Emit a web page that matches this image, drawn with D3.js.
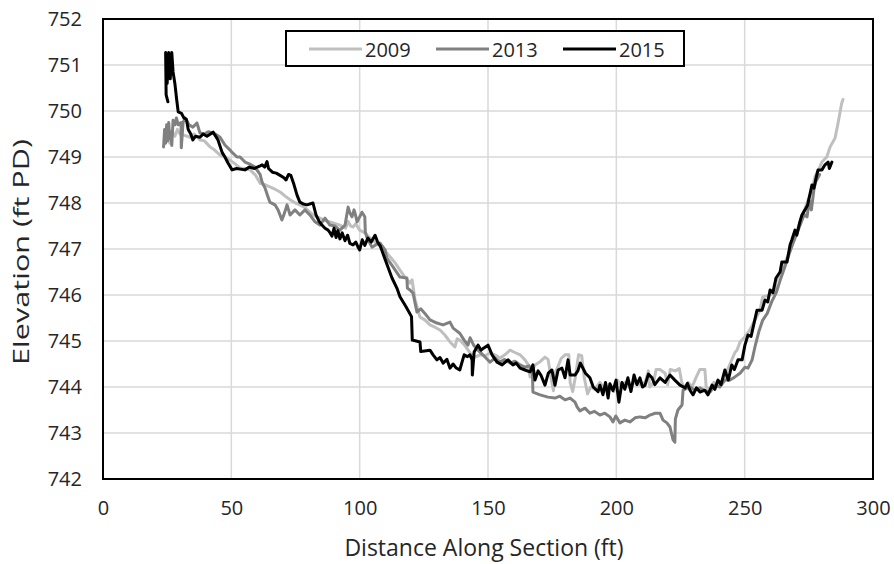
<!DOCTYPE html>
<html><head><meta charset="utf-8">
<script src="https://cdn.jsdelivr.net/npm/d3@7/dist/d3.min.js"></script>
<style>
html,body{margin:0;padding:0;background:#fff;}
svg{display:block;}
text{font-family:"Open Sans","Noto Sans",sans-serif;fill:#262626;}
</style></head>
<body>
<svg id="chart" width="894" height="564"></svg>
<script>
const xTicks = [0, 50, 100, 150, 200, 250, 300];
const yTicks = [742, 743, 744, 745, 746, 747, 748, 749, 750, 751, 752];
const seriesNames = ["2009", "2013", "2015"];
const seriesColors = ["#bfbfbf", "#808080", "#000000"];

const data2009 = [[26,749.3],[27,749.55],[28,749.45],[29,749.6],[30,749.5],[31.2,749.48],[33.9,749.43],[35.5,749.5],[37.8,749.37],[39.5,749.35],[41.7,749.22],[43.5,749.15],[45.6,749.04],[47.5,749.0],[49.5,748.93],[51.5,748.85],[53.4,748.76],[55.5,748.75],[57.3,748.72],[59.5,748.6],[61.2,748.43],[63,748.4],[65,748.35],[67,748.3],[69,748.24],[71,748.15],[72.9,748.07],[75,748.0],[76.7,747.96],[78.7,747.9],[80.6,747.8],[82.5,747.72],[84.5,747.67],[86.5,747.62],[88.4,747.59],[90.5,747.55],[92.3,747.52],[94.5,747.45],[95.5,747.6],[96.5,747.5],[97.4,747.48],[98.5,747.55],[100,747.41],[102,747.35],[104,747.24],[106,747.15],[108,747.05],[110,746.95],[111.8,746.83],[113.8,746.7],[115.7,746.54],[117.5,746.4],[119.6,746.26],[120.4,746.33],[121.6,745.89],[123.5,745.52],[125.4,745.46],[127.4,745.35],[129.3,745.3],[131.3,745.24],[133.2,745.13],[135.2,744.98],[137.1,744.87],[138,745.05],[139,745.02],[140.9,744.91],[143,744.74],[144.9,744.65],[146.9,744.7],[148.8,744.68],[150.8,744.74],[152.7,744.7],[154.7,744.63],[156.6,744.7],[158.6,744.8],[160.5,744.75],[162.5,744.7],[164.4,744.59],[165.5,744.5],[166.4,744.22],[167.3,744.35],[168.3,744.48],[170.3,744.55],[172.2,744.65],[173.4,744.6],[174.9,744.1],[175.5,743.92],[176.1,744.3],[177.3,744.45],[178.5,744.62],[180,744.7],[181.5,744.7],[182,744.1],[183,743.9],[184,744.2],[185.3,744.7],[186.5,744.68],[187.5,744.2],[188.8,743.85],[190,744.0],[191.5,743.95],[193.6,744.1],[195.5,743.95],[197.5,744.05],[199,743.9],[200.5,744.15],[202,744.0],[203.5,744.1],[205.3,743.98],[207.3,744.12],[209.2,744.05],[211.2,744.1],[212.5,744.35],[213,744.0],[214.5,744.1],[215.5,744.38],[217,744.38],[219,744.3],[220,744.05],[221,744.38],[223,744.35],[224.5,744.4],[225.5,744.1],[226.5,743.98],[228,744.1],[229.5,744.0],[231,744.2],[232.5,744.38],[234.5,744.38],[235,744.0],[236.5,743.95],[238,744.1],[240,744.05],[242,744.2],[244.3,744.5],[246.2,744.75],[247,744.8],[248.2,744.98],[250.1,745.09],[252,745.24],[254,745.46],[256,745.67],[257,745.96],[259.9,746.0],[261.8,746.05],[262,746.26],[263.8,746.5],[265.7,746.7],[267.7,746.98],[269.6,747.26],[271.5,747.57],[273,747.8],[274.7,748.07],[276.2,748.28],[277.4,748.57],[279,748.75],[280.1,748.89],[282,749.0],[283.3,749.22],[285.2,749.41],[286.4,749.74],[287.8,750.17],[288.3,750.25]];

const data2013 = [[23.6,749.22],[24,749.6],[24.4,749.3],[24.8,749.7],[25.2,749.35],[25.6,749.75],[26,749.4],[26.4,749.55],[26.8,749.25],[27.3,749.8],[28,749.7],[28.6,749.85],[29.3,749.7],[30.4,749.75],[30.5,749.2],[31.2,749.75],[32,749.85],[33.5,749.7],[35,749.65],[36.6,749.74],[37.8,749.52],[39.5,749.5],[41,749.55],[42.9,749.52],[44.3,749.48],[45.6,749.43],[47.5,749.26],[49.5,749.15],[50.3,749.1],[52.2,749.0],[53.4,749.0],[55.3,748.89],[57,748.85],[59.2,748.78],[61.2,748.62],[62,748.45],[63.1,748.33],[64.3,748.13],[65,748.02],[67,747.96],[68.2,747.85],[69.7,747.63],[70.7,747.78],[71.7,747.96],[72.9,747.74],[74.8,747.85],[76.7,747.74],[78.7,747.85],[80.6,747.74],[82.6,747.59],[84.5,747.52],[86.5,747.67],[88.4,747.52],[90.3,747.5],[92.3,747.41],[94.3,747.52],[95.5,747.91],[96.2,747.78],[97,747.7],[97.8,747.85],[98.2,747.78],[99,747.59],[100.9,747.8],[102,747.7],[102.2,747.37],[102.9,747.24],[104.8,747.04],[106.5,747.1],[107.9,747.13],[109.9,746.98],[110.6,746.8],[113,746.61],[115.7,746.39],[118.4,746.37],[118.6,746.15],[119.6,746.11],[120.8,746.04],[122.3,745.63],[123.8,745.7],[125.4,745.6],[127.4,745.46],[130.1,745.39],[132.5,745.35],[135.2,745.41],[136.4,745.28],[139,745.17],[140.7,745.02],[142.2,744.91],[143,745.07],[144.5,744.9],[146.1,744.8],[148,744.7],[149.2,744.63],[150.8,744.54],[152.7,744.63],[154.7,744.54],[156.5,744.6],[158.6,744.52],[160.5,744.56],[162.5,744.48],[164.4,744.43],[166,744.46],[167.3,744.37],[167.5,743.89],[170.3,743.83],[173.4,743.78],[176.1,743.76],[178,743.8],[180,743.72],[182,743.76],[183.9,743.67],[184.7,743.57],[185.8,743.48],[187.8,743.54],[189.7,743.43],[191.5,743.47],[193.6,743.39],[195.5,743.43],[197.5,743.35],[198.7,743.24],[199.8,743.37],[201.4,743.22],[203.3,743.28],[205.3,743.24],[207.3,743.33],[209.2,743.35],[211.2,743.33],[213.1,743.39],[215.1,743.43],[217,743.43],[218.2,743.28],[219.7,743.22],[220.9,743.13],[222.1,742.85],[222.8,742.8],[223,743.3],[224,743.5],[225.6,743.61],[226,743.93],[228.7,744.0],[230.6,743.93],[232.5,743.98],[234.5,743.92],[236.5,743.89],[238.4,744.04],[240.3,744.0],[242.3,744.15],[244.3,744.15],[246.2,744.22],[248.2,744.3],[250.1,744.43],[251.3,744.41],[252.9,744.59],[254,744.87],[255.5,745.2],[257,745.45],[258.8,745.6],[260.5,745.85],[262.3,746.05],[264,746.35],[265.7,746.62],[267.4,746.9],[269,747.15],[270.4,747.35],[271.8,747.55],[273.2,747.75],[274.3,747.7],[275.2,748.05],[276,747.85],[277,748.3],[277.6,748.45],[279.2,748.62]];

const data2015 = [[25.3,750.2],[24.6,750.35],[24.4,751.27],[25.0,750.6],[25.6,751.27],[26.2,750.7],[26.8,751.27],[27.3,750.85],[28.0,750.6],[28.7,750.25],[29.3,749.98],[30.6,749.95],[31.5,749.85],[32.5,749.82],[33.2,749.6],[34.2,749.5],[35.0,749.37],[36.0,749.45],[37.8,749.43],[39.0,749.5],[40.5,749.45],[42.9,749.54],[44.8,749.37],[46.4,749.1],[47.5,749.0],[48.7,748.87],[50.3,748.72],[52,748.75],[55.3,748.72],[57,748.78],[59,748.75],[61,748.8],[62,748.83],[63,748.78],[63.9,748.9],[64.5,748.75],[66,748.67],[67.5,748.65],[69,748.6],[70.5,748.55],[71.3,748.5],[72.3,748.62],[73.2,748.6],[74.4,748.4],[75.6,748.17],[76.7,748.02],[78,747.98],[79.5,747.96],[81.8,748.0],[83,747.74],[84.2,747.6],[85.3,747.52],[86.5,747.45],[87.7,747.41],[88.5,747.35],[89.2,747.28],[90,747.45],[90.8,747.25],[91.5,747.4],[92.3,747.22],[93.2,747.35],[94.3,747.18],[95.3,747.3],[96.2,747.12],[97.4,747.09],[98.5,747.15],[99.3,747.05],[100,746.98],[101,747.2],[102,747.08],[103.2,747.24],[104.5,747.15],[106,747.3],[107,747.15],[108,747.07],[110,746.76],[112.6,746.37],[114.5,746.15],[115.7,745.96],[118,745.75],[120.2,745.53],[120.5,745.02],[123.5,744.98],[123.8,744.77],[127.4,744.8],[128.6,744.7],[130.1,744.59],[131.3,744.64],[132.5,744.52],[134,744.6],[135.2,744.41],[136.4,744.5],[137.5,744.42],[139,744.37],[140.7,744.7],[142,744.66],[143,744.7],[143.8,744.59],[143.9,744.26],[144.6,744.76],[146.1,744.91],[147.3,744.8],[148.4,744.85],[150,744.91],[151.6,744.7],[153.5,744.54],[155.5,744.48],[157.8,744.59],[159.7,744.48],[161,744.52],[162.5,744.41],[164.4,744.37],[166.4,744.33],[167.5,744.48],[168.3,744.15],[169.5,744.35],[170.6,744.26],[172.2,744.04],[173.5,744.3],[174.9,744.37],[176.1,744.04],[177.3,744.37],[178.8,744.41],[180,744.2],[181.2,744.59],[182,744.26],[183.9,744.26],[185,744.35],[186,744.52],[188,744.3],[189.7,744.2],[191,744.0],[192.9,743.9],[193.6,744.04],[194.8,743.83],[195.8,744.1],[196.8,743.76],[197.5,744.07],[198.7,743.92],[199.9,744.15],[201,743.67],[202.2,744.1],[203.3,743.95],[204.5,744.2],[205.7,743.9],[206.9,744.26],[208,744.05],[209.2,744.2],[210.2,744.0],[211.2,744.04],[212.5,744.28],[213.9,744.2],[215,744.05],[217,744.2],[219,744.1],[220.9,744.26],[222.8,744.15],[224.8,744.04],[226.8,743.98],[227.7,744.08],[228.7,743.93],[229.9,743.83],[231.2,743.98],[232.6,743.89],[234.5,743.93],[235.7,743.83],[237.3,744.04],[238.4,743.95],[239.6,744.15],[240.8,744.05],[242.3,744.37],[243.6,744.15],[245,744.48],[246,744.38],[247.4,744.59],[249,744.59],[250.1,744.91],[251.3,745.13],[252.5,745.1],[254.8,745.67],[256.8,745.67],[257.9,745.89],[259,745.85],[259.9,746.11],[261,746.05],[262.2,746.37],[263.8,746.5],[264.5,746.72],[266.5,746.72],[267.7,747.09],[268.4,747.2],[269.6,747.41],[270.3,747.3],[271.5,747.59],[272.3,747.74],[273.5,747.85],[274.5,747.95],[276.2,748.39],[277,748.32],[277.8,748.54],[278.6,748.72],[280.1,748.72],[281.3,748.83],[282.5,748.89],[283,748.75],[284,748.89]];

const seriesData = [data2009, data2013, data2015];

const svg = d3.select("#chart");
const m = {left: 103, top: 19, right: 873, bottom: 479};
const x = d3.scaleLinear().domain([0, 300]).range([m.left, m.right]);
const y = d3.scaleLinear().domain([742, 752]).range([m.bottom, m.top]);

// grid
svg.append("g").selectAll("line").data(xTicks.filter(d => d > 0 && d < 300)).join("line")
  .attr("x1", d => x(d)).attr("x2", d => x(d)).attr("y1", m.top).attr("y2", m.bottom)
  .attr("stroke", "#d9d9d9").attr("stroke-width", 1.5);
svg.append("g").selectAll("line").data(yTicks.filter(d => d > 742 && d < 752)).join("line")
  .attr("x1", m.left).attr("x2", m.right).attr("y1", d => y(d)).attr("y2", d => y(d))
  .attr("stroke", "#d9d9d9").attr("stroke-width", 1.5);

// axes (labels only)
const xAxis = svg.append("g").attr("transform", `translate(0,${m.bottom})`)
  .call(d3.axisBottom(x).tickValues(xTicks).tickSize(0).tickPadding(22));
xAxis.select(".domain").remove();
xAxis.selectAll("text").style("font-size", "20px").attr("fill", "#262626")
  .style("font-family", "'Open Sans', sans-serif");
const yAxis = svg.append("g").attr("transform", `translate(${m.left},0)`)
  .call(d3.axisLeft(y).tickValues(yTicks).tickSize(0).tickPadding(21));
yAxis.select(".domain").remove();
yAxis.selectAll("text").style("font-size", "20px").attr("fill", "#262626")
  .style("font-family", "'Open Sans', sans-serif");

// lines
const line = d3.line().x(d => x(d[0])).y(d => y(d[1]));
seriesData.forEach((ds, i) => {
  svg.append("path").datum(ds).attr("d", line).attr("fill", "none")
    .attr("stroke", seriesColors[i]).attr("stroke-width", 3)
    .attr("stroke-linejoin", "round").attr("stroke-linecap", "round");
});

// plot border
svg.append("rect").attr("x", m.left).attr("y", m.top)
  .attr("width", m.right - m.left).attr("height", m.bottom - m.top)
  .attr("fill", "none").attr("stroke", "#000").attr("stroke-width", 2);

// titles
svg.append("text").attr("x", 484).attr("y", 556)
  .attr("text-anchor", "middle").style("font-size", "23px").text("Distance Along Section (ft)");
svg.append("text").attr("transform", `translate(29,252) rotate(-90)`)
  .attr("text-anchor", "middle").style("font-size", "22px")
  .attr("textLength", 226).attr("lengthAdjust", "spacingAndGlyphs")
  .text("Elevation (ft PD)");

// legend
const lg = svg.append("g");
lg.append("rect").attr("x", 286).attr("y", 31).attr("width", 398).attr("height", 35)
  .attr("fill", "#fff").attr("stroke", "#000").attr("stroke-width", 2);
const lx = [309, 436, 563];
seriesNames.forEach((n, i) => {
  lg.append("line").attr("x1", lx[i]).attr("x2", lx[i] + 53).attr("y1", 49).attr("y2", 49)
    .attr("stroke", seriesColors[i]).attr("stroke-width", 3);
  lg.append("text").attr("x", lx[i] + 56).attr("y", 56.5).style("font-size", "20px").text(n);
});
</script>
</body></html>
